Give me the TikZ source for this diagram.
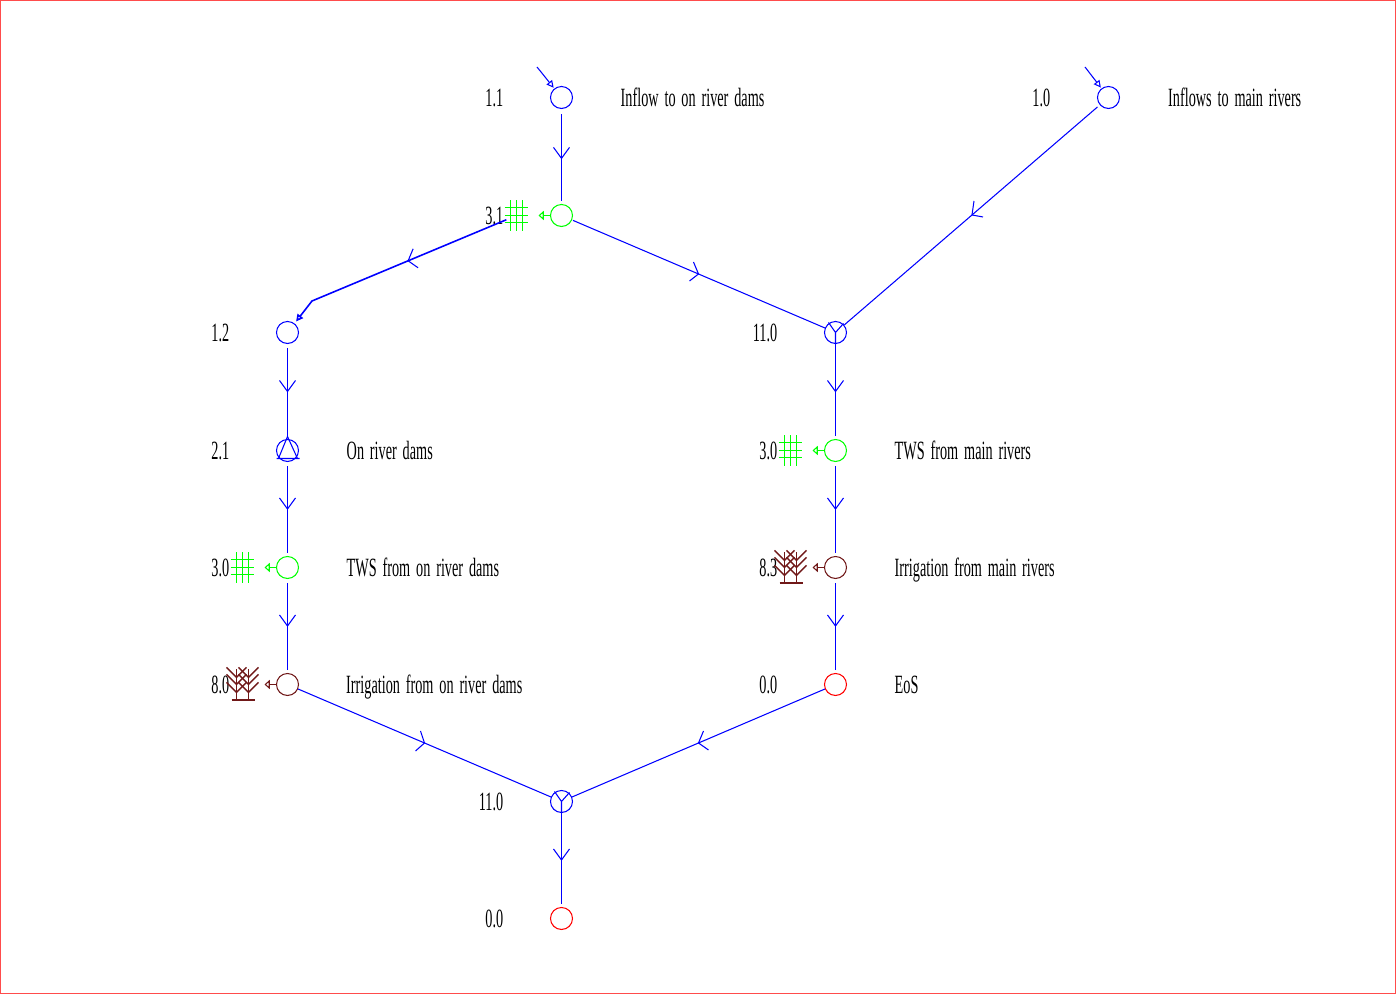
\documentclass[tikz,border=0pt]{standalone}
\usepackage{xcolor}
\usepackage{fontspec}
\setmainfont{Liberation Serif}[FakeStretch=0.54,WordSpace=1.65]
\definecolor{flow}{HTML}{0000FF}
\definecolor{tws}{HTML}{00FF00}
\definecolor{irrig}{HTML}{701818}
\definecolor{sink}{HTML}{FF0000}
\usepackage{tikz}
\usetikzlibrary{positioning,arrows.meta,calc}
\tikzset{
  gridicon/.pic={
    \foreach \gx in {-0.06,0,0.06} \draw[line width=0.4pt] (\gx,-0.15) -- (\gx,0.16);
    \foreach \gy in {-0.08,0,0.07} \draw (-0.12,\gy) -- (0.11,\gy);
  },
  treeicon/.pic={
    \draw (-0.11,0.155) -- (0.12,0.155);
    \foreach \tx in {-0.06,0.06} {
      \draw (\tx,0.155) -- (\tx,-0.15);
      \foreach \ty in {0.08,0,-0.07} \draw (\tx-0.10,\ty-0.10) -- (\tx,\ty) -- (\tx+0.10,\ty-0.10);
    }
  }
}
\newcommand{\barbat}[3]{\draw[link] (#1) ++(#2) -- (#1) -- ++(#3);}
\newcommand{\forkat}[1]{\draw[link] (#1.center) ++(-0.07,-0.10) -- (#1.center) -- ++(0.08,-0.09) (#1.center) -- (#1.south);}

\begin{document}
\begin{tikzpicture}[x=1cm, y=-1cm,
    station/.style={circle, draw=flow, line width=0.3pt, inner sep=0pt, minimum size=0.22cm},
    link/.style={draw=flow, line width=0.3pt},
    inlet/.style={link, -{Triangle[open, length=2pt, width=2pt]}},
    usetws/.style={draw=tws, line width=0.3pt, -{Triangle[open, length=1.5pt, width=2.6pt]}, shorten >=0.22cm},
    useirr/.style={usetws, draw=irrig},
    num/.style={font=\fontsize{7.5}{9}\selectfont, inner sep=0pt, text height=1.85mm, text depth=0pt},
    tag/.style={num}]
  \useasboundingbox (0,0) rectangle (13.96,9.94);
  \draw[sink!70, line width=0.3pt] (0.005,0.005) rectangle (13.955,9.935);
  % left branch
  \node[station] (in11) at (5.615,0.975) {};
  \node[station, draw=tws] (tw31) at (5.615,2.155) {};
  \node[station] (in12) at (2.875,3.325) {};
  \node[station] (dam21) at (2.875,4.505) {};
  \node[station, draw=tws] (tw30a) at (2.875,5.675) {};
  \node[station, draw=irrig] (ir80) at (2.875,6.845) {};
  % right branch
  \node[station] (in10) at (11.085,0.975) {};
  \node[station] (jn110a) at (8.355,3.325) {};
  \node[station, draw=tws] (tw30b) at (8.355,4.505) {};
  \node[station, draw=irrig] (ir83) at (8.355,5.675) {};
  \node[station, draw=sink] (eos) at (8.355,6.845) {};
  % bottom
  \node[station] (jn110b) at (5.615,8.015) {};
  \node[station, draw=sink] (end00) at (5.615,9.185) {};
  % numbers
  \node[num, left=0.46cm of in11] (n11) {1.1};
  \node[num, left=0.46cm of tw31] (n31) {3.1};
  \node[num, left=0.46cm of in12] (n12) {1.2};
  \node[num, left=0.46cm of dam21] (n21) {2.1};
  \node[num, left=0.46cm of tw30a] (n30a) {3.0};
  \node[num, left=0.46cm of ir80] (n80) {8.0};
  \node[num, left=0.46cm of in10] (n10) {1.0};
  \node[num, left=0.46cm of jn110a] (n110a) {11.0};
  \node[num, left=0.46cm of tw30b] (n30b) {3.0};
  \node[num, left=0.46cm of ir83] (n83) {8.3};
  \node[num, left=0.46cm of eos] (n00a) {0.0};
  \node[num, left=0.46cm of jn110b] (n110b) {11.0};
  \node[num, left=0.46cm of end00] (n00b) {0.0};
  % names
  \node[tag, right=0.47cm of in11] (t11) {Inflow to on river dams};
  \node[tag, right=0.475cm of in10] (t10) {Inflows to main rivers};
  \node[tag, right=0.47cm of dam21] (t21) {On river dams};
  \node[tag, right=0.47cm of tw30a] (t30a) {TWS from on river dams};
  \node[tag, right=0.465cm of ir80] (t80) {Irrigation from on river dams};
  \node[tag, right=0.47cm of tw30b] (t30b) {TWS from main rivers};
  \node[tag, right=0.47cm of ir83] (t83) {Irrigation from main rivers};
  \node[tag, right=0.47cm of eos] (teos) {EoS};
  % free ends and icons
  \coordinate (src11) at (5.37,0.67);
  \coordinate (src10) at (10.85,0.67);
  \coordinate (bend) at (3.12,3.01);
  \coordinate (g31) at (5.165,2.155);
  \coordinate (g30a) at (2.425,5.675);
  \coordinate (g30b) at (7.905,4.505);
  \coordinate (g80) at (2.425,6.845);
  \coordinate (g83) at (7.905,5.675);
  \pic[tws, line width=0.3pt] at (g31) {gridicon};
  \pic[tws, line width=0.3pt] at (g30a) {gridicon};
  \pic[tws, line width=0.3pt] at (g30b) {gridicon};
  \pic[irrig, line width=0.4pt] at (g80) {treeicon};
  \pic[irrig, line width=0.4pt] at (g83) {treeicon};
  \draw[usetws] (tw31) -- (g31);
  \draw[usetws] (tw30a) -- (g30a);
  \draw[usetws] (tw30b) -- (g30b);
  \draw[useirr] (ir80) -- (g80);
  \draw[useirr] (ir83) -- (g83);
  % triangle of the dam
  \draw[link] (2.875,4.365) -- (2.785,4.585) -- (2.975,4.585) -- cycle (2.765,4.585) -- (2.995,4.585);
  \forkat{jn110a}
  \forkat{jn110b}
  % inflows
  \draw[inlet, shorten >=0.01cm] (src11) -- (in11);
  \draw[inlet, shorten >=0.01cm] (src10) -- (in10);
  % connectors
  \draw[link, shorten <=0.05cm, shorten >=0.03cm] (in11) -- coordinate[pos=0.52] (m1) (tw31);
  \barbat{m1}{-0.08,-0.11}{0.08,-0.11}
  \draw[link, shorten <=0.01cm] (tw31) -- coordinate (m2) (jn110a);
  \barbat{m2}{-0.05,-0.12}{-0.09,0.07}
  \draw[link, shorten <=0.03cm] (in10) -- coordinate (m3) (jn110a);
  \barbat{m3}{0.02,-0.14}{0.11,0.02}
  \draw[inlet, line width=0.45pt, shorten <=0.11cm, shorten >=0.025cm] (g31) -- coordinate[pos=0.53] (m4) (bend) -- (in12);
  \barbat{m4}{0.05,-0.12}{0.10,0.07}
  \draw[link, shorten <=0.04cm, shorten >=0.03cm] (in12) -- coordinate (m5) (dam21);
  \barbat{m5}{-0.08,-0.11}{0.08,-0.11}
  \draw[link, shorten <=0.04cm, shorten >=0.03cm] (dam21) -- coordinate (m6) (tw30a);
  \barbat{m6}{-0.08,-0.11}{0.08,-0.11}
  \draw[link, shorten <=0.04cm, shorten >=0.03cm] (tw30a) -- coordinate (m7) (ir80);
  \barbat{m7}{-0.08,-0.11}{0.08,-0.11}
  \draw[link, shorten >=0.03cm] (jn110a) -- coordinate (m8) (tw30b);
  \barbat{m8}{-0.08,-0.11}{0.08,-0.11}
  \draw[link, shorten <=0.04cm, shorten >=0.03cm] (tw30b) -- coordinate (m9) (ir83);
  \barbat{m9}{-0.08,-0.11}{0.08,-0.11}
  \draw[link, shorten <=0.04cm, shorten >=0.03cm] (ir83) -- coordinate (m10) (eos);
  \barbat{m10}{-0.08,-0.11}{0.08,-0.11}
  \draw[link] (ir80) -- coordinate (m11) (jn110b);
  \barbat{m11}{-0.04,-0.12}{-0.09,0.08}
  \draw[link] (eos) -- coordinate (m12) (jn110b);
  \barbat{m12}{0.05,-0.12}{0.10,0.07}
  \draw[link, shorten >=0.03cm] (jn110b) -- coordinate (m13) (end00);
  \barbat{m13}{-0.08,-0.11}{0.08,-0.11}
\end{tikzpicture}
\end{document}
